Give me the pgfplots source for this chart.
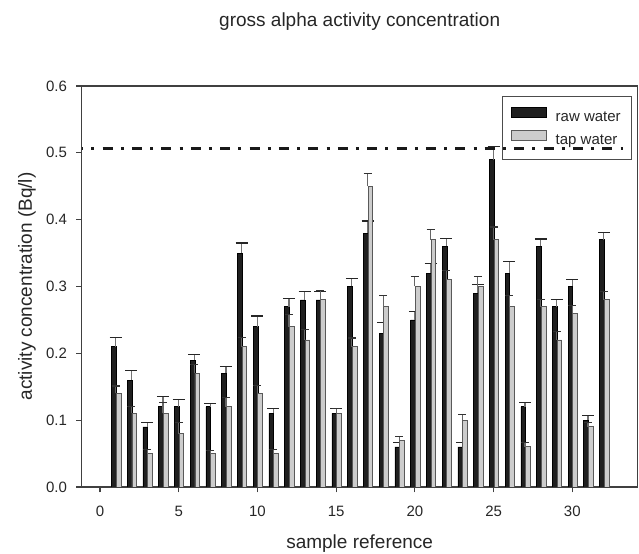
\documentclass[border=0pt]{standalone}
\usepackage{fontspec}
\setmainfont{Liberation Sans}
\usepackage{pgfplots}
\usepackage{pgfplotstable}
\pgfplotsset{compat=1.18}

\pgfplotstableread{
x raw rawe tap tape
1 0.21 0.014 0.14 0.011
2 0.16 0.014 0.11 0.011
3 0.09 0.006 0.05 0.006
4 0.12 0.015 0.11 0.016
5 0.12 0.011 0.08 0.017
6 0.19 0.008 0.17 0.013
7 0.12 0.005 0.05 0.005
8 0.17 0.010 0.12 0.014
9 0.35 0.015 0.21 0.014
10 0.24 0.016 0.14 0.012
11 0.11 0.007 0.05 0.006
12 0.27 0.012 0.24 0.018
13 0.28 0.012 0.22 0.016
14 0.28 0.012 0.28 0.014
15 0.11 0.007 0.11 0.007
16 0.30 0.012 0.21 0.013
17 0.38 0.018 0.45 0.019
18 0.23 0.016 0.27 0.016
19 0.06 0.006 0.07 0.006
20 0.25 0.013 0.30 0.015
21 0.32 0.014 0.37 0.015
22 0.36 0.012 0.31 0.014
23 0.06 0.006 0.10 0.008
24 0.29 0.013 0.30 0.015
25 0.49 0.020 0.37 0.019
26 0.32 0.018 0.27 0.016
27 0.12 0.007 0.06 0.006
28 0.36 0.011 0.27 0.011
29 0.27 0.011 0.22 0.013
30 0.30 0.011 0.26 0.012
31 0.10 0.007 0.09 0.006
32 0.37 0.011 0.28 0.013
}\data

\begin{document}
\begin{tikzpicture}
\path[use as bounding box] (-61.275pt,-50.25pt) rectangle (418pt,365.25pt);
\begin{axis}[
  at={(0pt,0pt)}, anchor=south west,
  scale only axis, width=417pt, height=300.75pt,
  clip mode=individual,
  xmin=-1.16, xmax=34.15, ymin=0, ymax=0.6,
  axis line style={draw=black!75, line width=0.9pt},
  every tick/.style={draw=black!75, line width=0.9pt},
  tick align=outside, major tick length=4pt,
  xtick pos=left, ytick pos=left,
  xtick={0,5,10,15,20,25,30},
  ytick={0,0.1,0.2,0.3,0.4,0.5,0.6},
  /pgf/number format/assume math mode=true,
  ticklabel style={font=\fontsize{11.25}{13}\selectfont, text=black!85},
  xticklabel style={yshift=-7pt},
  yticklabel style={xshift=-3.5pt, /pgf/number format/.cd, fixed, fixed zerofill, precision=1},
  xlabel={sample reference},
  label style={font=\fontsize{14.25}{16}\selectfont, text=black!85},
  xlabel style={at={(axis description cs:0.5,0)}, anchor=base, yshift=-46.5pt},
  title={gross alpha activity concentration},
  title style={at={(axis description cs:0.5,1)}, anchor=base, yshift=39pt, font=\fontsize{14.25}{16}\selectfont, text=black!85},
  legend style={at={(0.9897,0.975)}, anchor=north east, draw=black!70, line width=0.8pt, fill=none,
    font=\fontsize{11.25}{13}\selectfont, text=black!85, inner xsep=6pt, inner ysep=8pt,
    row sep=3pt, cells={anchor=west},
    /tikz/every odd column/.append style={column sep=5pt}},
]
\addplot[ybar, bar width=0.3, bar shift=-0.12, fill=black!88, draw=black, line width=0.5pt,
  legend image code/.code={\draw[fill=black!88, draw=black, line width=0.5pt] (0pt,0pt) rectangle (26pt,7.5pt);},
  error bars/.cd, y dir=plus, y explicit,
  error bar style={draw=black!55, line width=0.9pt},
  error mark options={draw=black!85, line width=0.9pt, mark size=4.5pt, rotate=90}]
  table[x=x, y=raw, y error=rawe] {\data};
\addlegendentry{raw water}
\addplot[ybar, bar width=0.3, bar shift=0.18, fill=black!20, draw=black!65, line width=0.6pt,
  legend image code/.code={\draw[fill=black!20, draw=black!65, line width=0.6pt] (0pt,0pt) rectangle (26pt,7.5pt);},
  error bars/.cd, y dir=plus, y explicit,
  error bar style={draw=black!60, line width=0.9pt},
  error mark options={draw=black!80, line width=0.9pt, mark size=3pt, rotate=90}]
  table[x=x, y=tap, y error=tape] {\data};
\addlegendentry{tap water}
\addplot[black!90, line width=2.2pt, dash pattern=on 7.5pt off 6.15pt on 2.25pt off 6.15pt, dash phase=6.4pt, forget plot]
  coordinates {(-1.16,0.507) (33.2,0.507)};
\node[rotate=90, anchor=center, font=\fontsize{14.25}{16}\selectfont, text=black!85]
  at ([xshift=-41pt]axis description cs:0,0.5) {activity concentration (Bq/l)};
\end{axis}
\end{tikzpicture}
\end{document}
